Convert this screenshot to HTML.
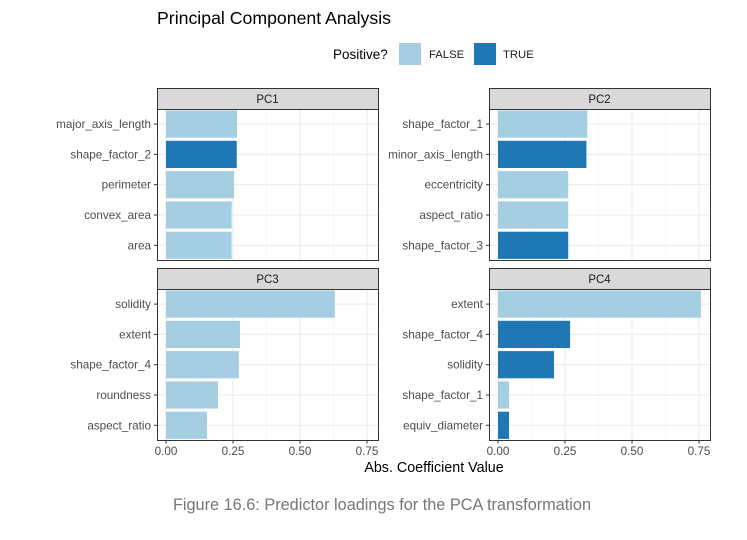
<!DOCTYPE html>
<html><head><meta charset="utf-8"><style>
body{margin:0;background:#fff;}
svg text{font-family:"Liberation Sans",sans-serif;}
</style></head><body>
<svg id="c" width="747" height="535" xmlns="http://www.w3.org/2000/svg">
<text x="157" y="24" font-size="17.7" fill="#000">Principal Component Analysis</text>
<g>
<text x="333" y="59" font-size="13.5" fill="#000">Positive?</text>
<rect x="399" y="43" width="22" height="22" fill="#a6cee3"/>
<text x="429" y="58" font-size="11.3" fill="#1a1a1a">FALSE</text>
<rect x="474" y="43" width="22" height="22" fill="#1f78b4"/>
<text x="503" y="58" font-size="11.3" fill="#1a1a1a">TRUE</text>
</g>
<text x="434" y="472" font-size="14.3" text-anchor="middle" fill="#000">Abs. Coefficient Value</text>
<text x="382" y="510" font-size="16.3" text-anchor="middle" fill="#777">Figure 16.6: Predictor loadings for the PCA transformation</text>
</svg>
<script>
const panelNames = ["PC1","PC2","PC3","PC4"];
const pc1Labels = ["major_axis_length","shape_factor_2","perimeter","convex_area","area"];
const pc1Values = [0.265,0.264,0.254,0.245,0.245];
const pc1Positive = [false,true,false,false,false];
const pc2Labels = ["shape_factor_1","minor_axis_length","eccentricity","aspect_ratio","shape_factor_3"];
const pc2Values = [0.333,0.330,0.262,0.262,0.262];
const pc2Positive = [false,true,false,false,true];
const pc3Labels = ["solidity","extent","shape_factor_4","roundness","aspect_ratio"];
const pc3Values = [0.63,0.276,0.272,0.194,0.153];
const pc3Positive = [false,false,false,false,false];
const pc4Labels = ["extent","shape_factor_4","solidity","shape_factor_1","equiv_diameter"];
const pc4Values = [0.757,0.269,0.209,0.041,0.041];
const pc4Positive = [false,true,true,false,true];
const xTicks = [0,0.25,0.5,0.75];
const xTickLabels = ["0.00","0.25","0.50","0.75"];

const svg=document.getElementById('c');
const NS="http://www.w3.org/2000/svg";
function mk(t,a,p){const e=document.createElementNS(NS,t);for(const k in a)e.setAttribute(k,a[k]);(p||svg).appendChild(e);return e;}
const labelsAll=[pc1Labels,pc2Labels,pc3Labels,pc4Labels];
const valsAll=[pc1Values,pc2Values,pc3Values,pc4Values];
const posAll=[pc1Positive,pc2Positive,pc3Positive,pc4Positive];
const geo=[{x:157,y:88},{x:489,y:88},{x:157,y:268},{x:489,y:268}];
const PW=221,SH=21,PH=151,PX=268;
geo.forEach((g,i)=>{
  const xs=v=>g.x+9+v*PX;
  const top=g.y+SH, bot=top+PH;
  const rowY=k=>top+15.1+k*30.3;
  const grp=mk('g',{});
  
  
  const strip=mk('rect',{x:g.x+0.5,y:g.y+0.5,width:PW,height:SH,fill:'#d9d9d9',stroke:'#333','stroke-width':1},grp);
  
  
  const st=mk('text',{x:g.x+PW/2,y:g.y+15,'font-size':11.5,'text-anchor':'middle',fill:'#1a1a1a'},grp);
  st.textContent=panelNames[i];
  
  
  mk('rect',{x:g.x+0.5,y:top+0.5,width:PW,height:PH,fill:'#fff'},grp);
  for(let t=0;t<xTicks.length;t++){
    const mx=xs(xTicks[t]+0.125);
    if(mx<g.x+PW) mk('line',{x1:mx,x2:mx,y1:top,y2:bot,stroke:'#f3f3f3','stroke-width':0.6},grp);
    const x=xs(xTicks[t]);
    mk('line',{x1:x,x2:x,y1:top,y2:bot,stroke:'#ebebeb','stroke-width':1.1},grp);
  }
  labelsAll[i].forEach((lab,k)=>{
    const y=rowY(k);
    mk('line',{x1:g.x,x2:g.x+PW,y1:y,y2:y,stroke:'#ebebeb','stroke-width':1.1},grp);
  });
  labelsAll[i].forEach((lab,k)=>{
    const y=rowY(k);
    const b=mk('rect',{x:xs(0),y:y-13.6,width:xs(valsAll[i][k])-xs(0),height:27.2,fill:posAll[i][k]?'#1f78b4':'#a6cee3'},grp);
    
    
    mk('line',{x1:g.x-3,x2:g.x,y1:y,y2:y,stroke:'#333','stroke-width':1},grp);
    const tl=mk('text',{x:g.x-6,y:y+4,'font-size':11.7,'text-anchor':'end',fill:'#4d4d4d'},grp);
    tl.textContent=lab;
    
    
  });
  mk('rect',{x:g.x+0.5,y:top+0.5,width:PW,height:PH,fill:'none',stroke:'#333','stroke-width':1},grp);
  if(i>=2){
    xTicks.forEach((t,j)=>{
      const x=xs(t);
      mk('line',{x1:x,x2:x,y1:bot+0.5,y2:bot+3.5,stroke:'#333','stroke-width':1},grp);
      const xl=mk('text',{x:x,y:bot+15,'font-size':11.7,'text-anchor':'middle',fill:'#4d4d4d'},grp);
      xl.textContent=xTickLabels[j];
      
      
    });
  }
});
</script>
</body></html>
